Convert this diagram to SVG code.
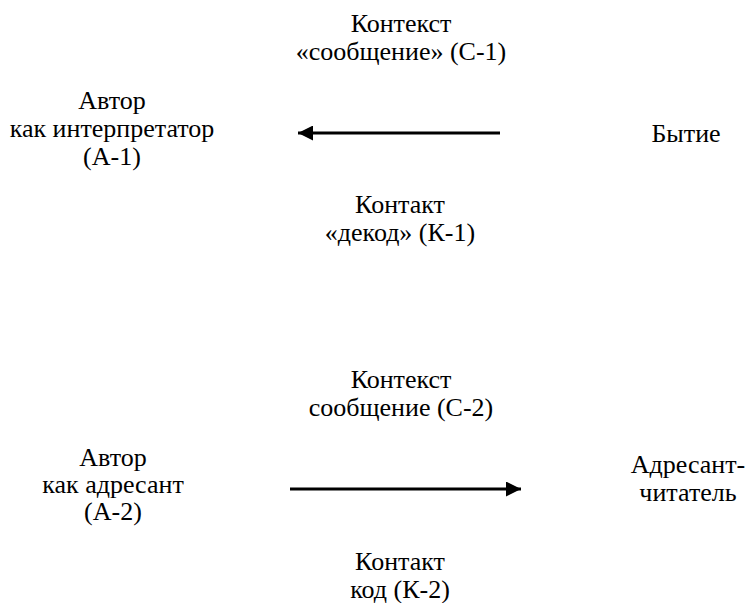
<svg xmlns="http://www.w3.org/2000/svg" width="746" height="603" viewBox="0 0 746 603">
  <style>
    .t { font-family: 'Liberation Serif', 'Times New Roman', serif; font-size: 26px; fill: #000; text-anchor: middle; }
    .conn { stroke: #000; stroke-width: 3; fill: none; }
  </style>
  <defs>
    <marker id="arrow" markerWidth="5" markerHeight="5" refX="5" refY="2.5" orient="auto" markerUnits="strokeWidth" viewBox="0 0 5 5">
      <path d="M0,0 L5,2.5 L0,5 Z" fill="#000"/>
    </marker>
  </defs>
  <rect width="746" height="603" fill="#fff"/>

  <g id="context1" class="t">
    <text x="401" y="32">Контекст</text>
    <text x="401" y="60">«сообщение» (С-1)</text>
  </g>
  <g id="author1" class="t">
    <text x="112" y="109">Автор</text>
    <text x="112" y="137">как интерпретатор</text>
    <text x="112" y="165">(А-1)</text>
  </g>
  <g id="being" class="t">
    <text x="686" y="142">Бытие</text>
  </g>
  <g id="contact1" class="t">
    <text x="400" y="213">Контакт</text>
    <text x="400" y="241">«декод» (К-1)</text>
  </g>

  <g id="context2" class="t">
    <text x="401" y="388">Контекст</text>
    <text x="401" y="416">сообщение (С-2)</text>
  </g>
  <g id="author2" class="t">
    <text x="113" y="466">Автор</text>
    <text x="113" y="493">как адресант</text>
    <text x="113" y="520">(А-2)</text>
  </g>
  <g id="reader" class="t">
    <text x="688" y="473">Адресант-</text>
    <text x="688" y="501">читатель</text>
  </g>
  <g id="contact2" class="t">
    <text x="400" y="570">Контакт</text>
    <text x="400" y="598">код (К-2)</text>
  </g>

  <g id="connectors">
    <line class="conn" x1="500" y1="133" x2="298" y2="133" marker-end="url(#arrow)"/>
    <line class="conn" x1="290" y1="489" x2="521" y2="489" marker-end="url(#arrow)"/>
  </g>
</svg>
